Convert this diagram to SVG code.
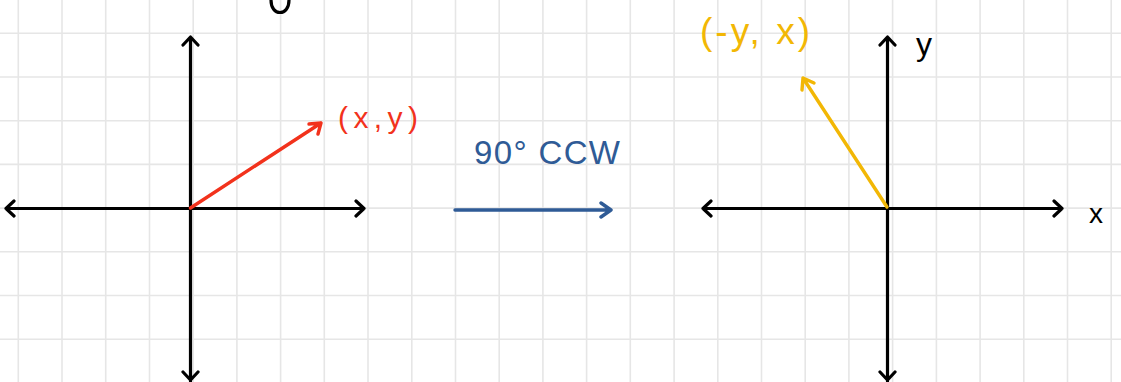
<svg xmlns="http://www.w3.org/2000/svg" width="1121" height="382" viewBox="0 0 1121 382">
<style>
.grid line{stroke:#e6e6e6;stroke-width:1.6}
.axis{stroke:#000;stroke-width:3.2;fill:none;stroke-linecap:round;stroke-linejoin:round}
.red{stroke:#f2321c;stroke-width:3.4;fill:none;stroke-linecap:round;stroke-linejoin:round}
.yel{stroke:#f2b705;stroke-width:3.4;fill:none;stroke-linecap:round;stroke-linejoin:round}
.blue{stroke:#2f5b96;stroke-width:3.4;fill:none;stroke-linecap:round;stroke-linejoin:round}
.t{font-family:"Liberation Sans","DejaVu Sans",sans-serif}
</style>
<rect width="1121" height="382" fill="#fff"/>
<g class="grid" id="grid">
<line x1="18.3" y1="0" x2="18.3" y2="382"/><line x1="62" y1="0" x2="62" y2="382"/><line x1="105.7" y1="0" x2="105.7" y2="382"/><line x1="149.5" y1="0" x2="149.5" y2="382"/><line x1="193.2" y1="0" x2="193.2" y2="382"/><line x1="236.9" y1="0" x2="236.9" y2="382"/><line x1="280.6" y1="0" x2="280.6" y2="382"/><line x1="324.3" y1="0" x2="324.3" y2="382"/><line x1="368" y1="0" x2="368" y2="382"/><line x1="411.8" y1="0" x2="411.8" y2="382"/><line x1="455.5" y1="0" x2="455.5" y2="382"/><line x1="499.2" y1="0" x2="499.2" y2="382"/><line x1="542.9" y1="0" x2="542.9" y2="382"/><line x1="586.6" y1="0" x2="586.6" y2="382"/><line x1="630.3" y1="0" x2="630.3" y2="382"/><line x1="674.1" y1="0" x2="674.1" y2="382"/><line x1="717.8" y1="0" x2="717.8" y2="382"/><line x1="761.5" y1="0" x2="761.5" y2="382"/><line x1="805.2" y1="0" x2="805.2" y2="382"/><line x1="848.9" y1="0" x2="848.9" y2="382"/><line x1="892.6" y1="0" x2="892.6" y2="382"/><line x1="936.4" y1="0" x2="936.4" y2="382"/><line x1="980.1" y1="0" x2="980.1" y2="382"/><line x1="1023.8" y1="0" x2="1023.8" y2="382"/><line x1="1067.5" y1="0" x2="1067.5" y2="382"/><line x1="1111.2" y1="0" x2="1111.2" y2="382"/>
<line x1="0" y1="33.3" x2="1121" y2="33.3"/><line x1="0" y1="77" x2="1121" y2="77"/><line x1="0" y1="120.7" x2="1121" y2="120.7"/><line x1="0" y1="164.4" x2="1121" y2="164.4"/><line x1="0" y1="208.1" x2="1121" y2="208.1"/><line x1="0" y1="251.8" x2="1121" y2="251.8"/><line x1="0" y1="295.5" x2="1121" y2="295.5"/><line x1="0" y1="339.2" x2="1121" y2="339.2"/>
</g>
<g id="top-fragment"><path class="axis" d="M271,0 C271,8 275,12.5 280,12.5 C285,12.5 289,8 289,0"/></g>
<g id="left-axes">
<path class="axis" d="M190.5,37 V381 M183,45 L190.5,37 L198,45 M183,372 L190.5,380 L198,372"/>
<path class="axis" d="M6,208.5 H364 M14,201 L6,208.5 L14,216 M356,201 L364,208.5 L356,216"/>
</g>
<g id="right-axes">
<path class="axis" d="M887.5,37 V381 M880,45 L887.5,37 L895,45 M880,372 L887.5,380 L895,372"/>
<path class="axis" d="M703,208.5 H1062 M711,201 L703,208.5 L711,216 M1054,201 L1062,208.5 L1054,216"/>
<text class="t" x="916" y="55" font-size="32" fill="#000">y</text>
<text class="t" x="1089" y="223" font-size="28" fill="#000">x</text>
</g>
<g id="connectors">
<g id="red-vector"><path class="red" d="M190.5,208 L321,123 M309,124 L321,123 L318,134"/>
<text class="t" x="338" y="128" font-size="30" textLength="80" lengthAdjust="spacing" fill="#f2321c">(x,y)</text></g>
<g id="yellow-vector"><path class="yel" d="M887,207 L803,78 M802,90 L803,78 L814,83"/>
<text class="t" x="700" y="44" font-size="37" textLength="110" lengthAdjust="spacing" fill="#f2b705">(-y, x)</text></g>
<g id="blue-arrow"><path class="blue" d="M455,210 H611 M601,203 L611,210 L601,217"/>
<text class="t" x="474" y="164" font-size="33" textLength="146" lengthAdjust="spacing" fill="#2f5b96">90° CCW</text></g>
</g>
</svg>
